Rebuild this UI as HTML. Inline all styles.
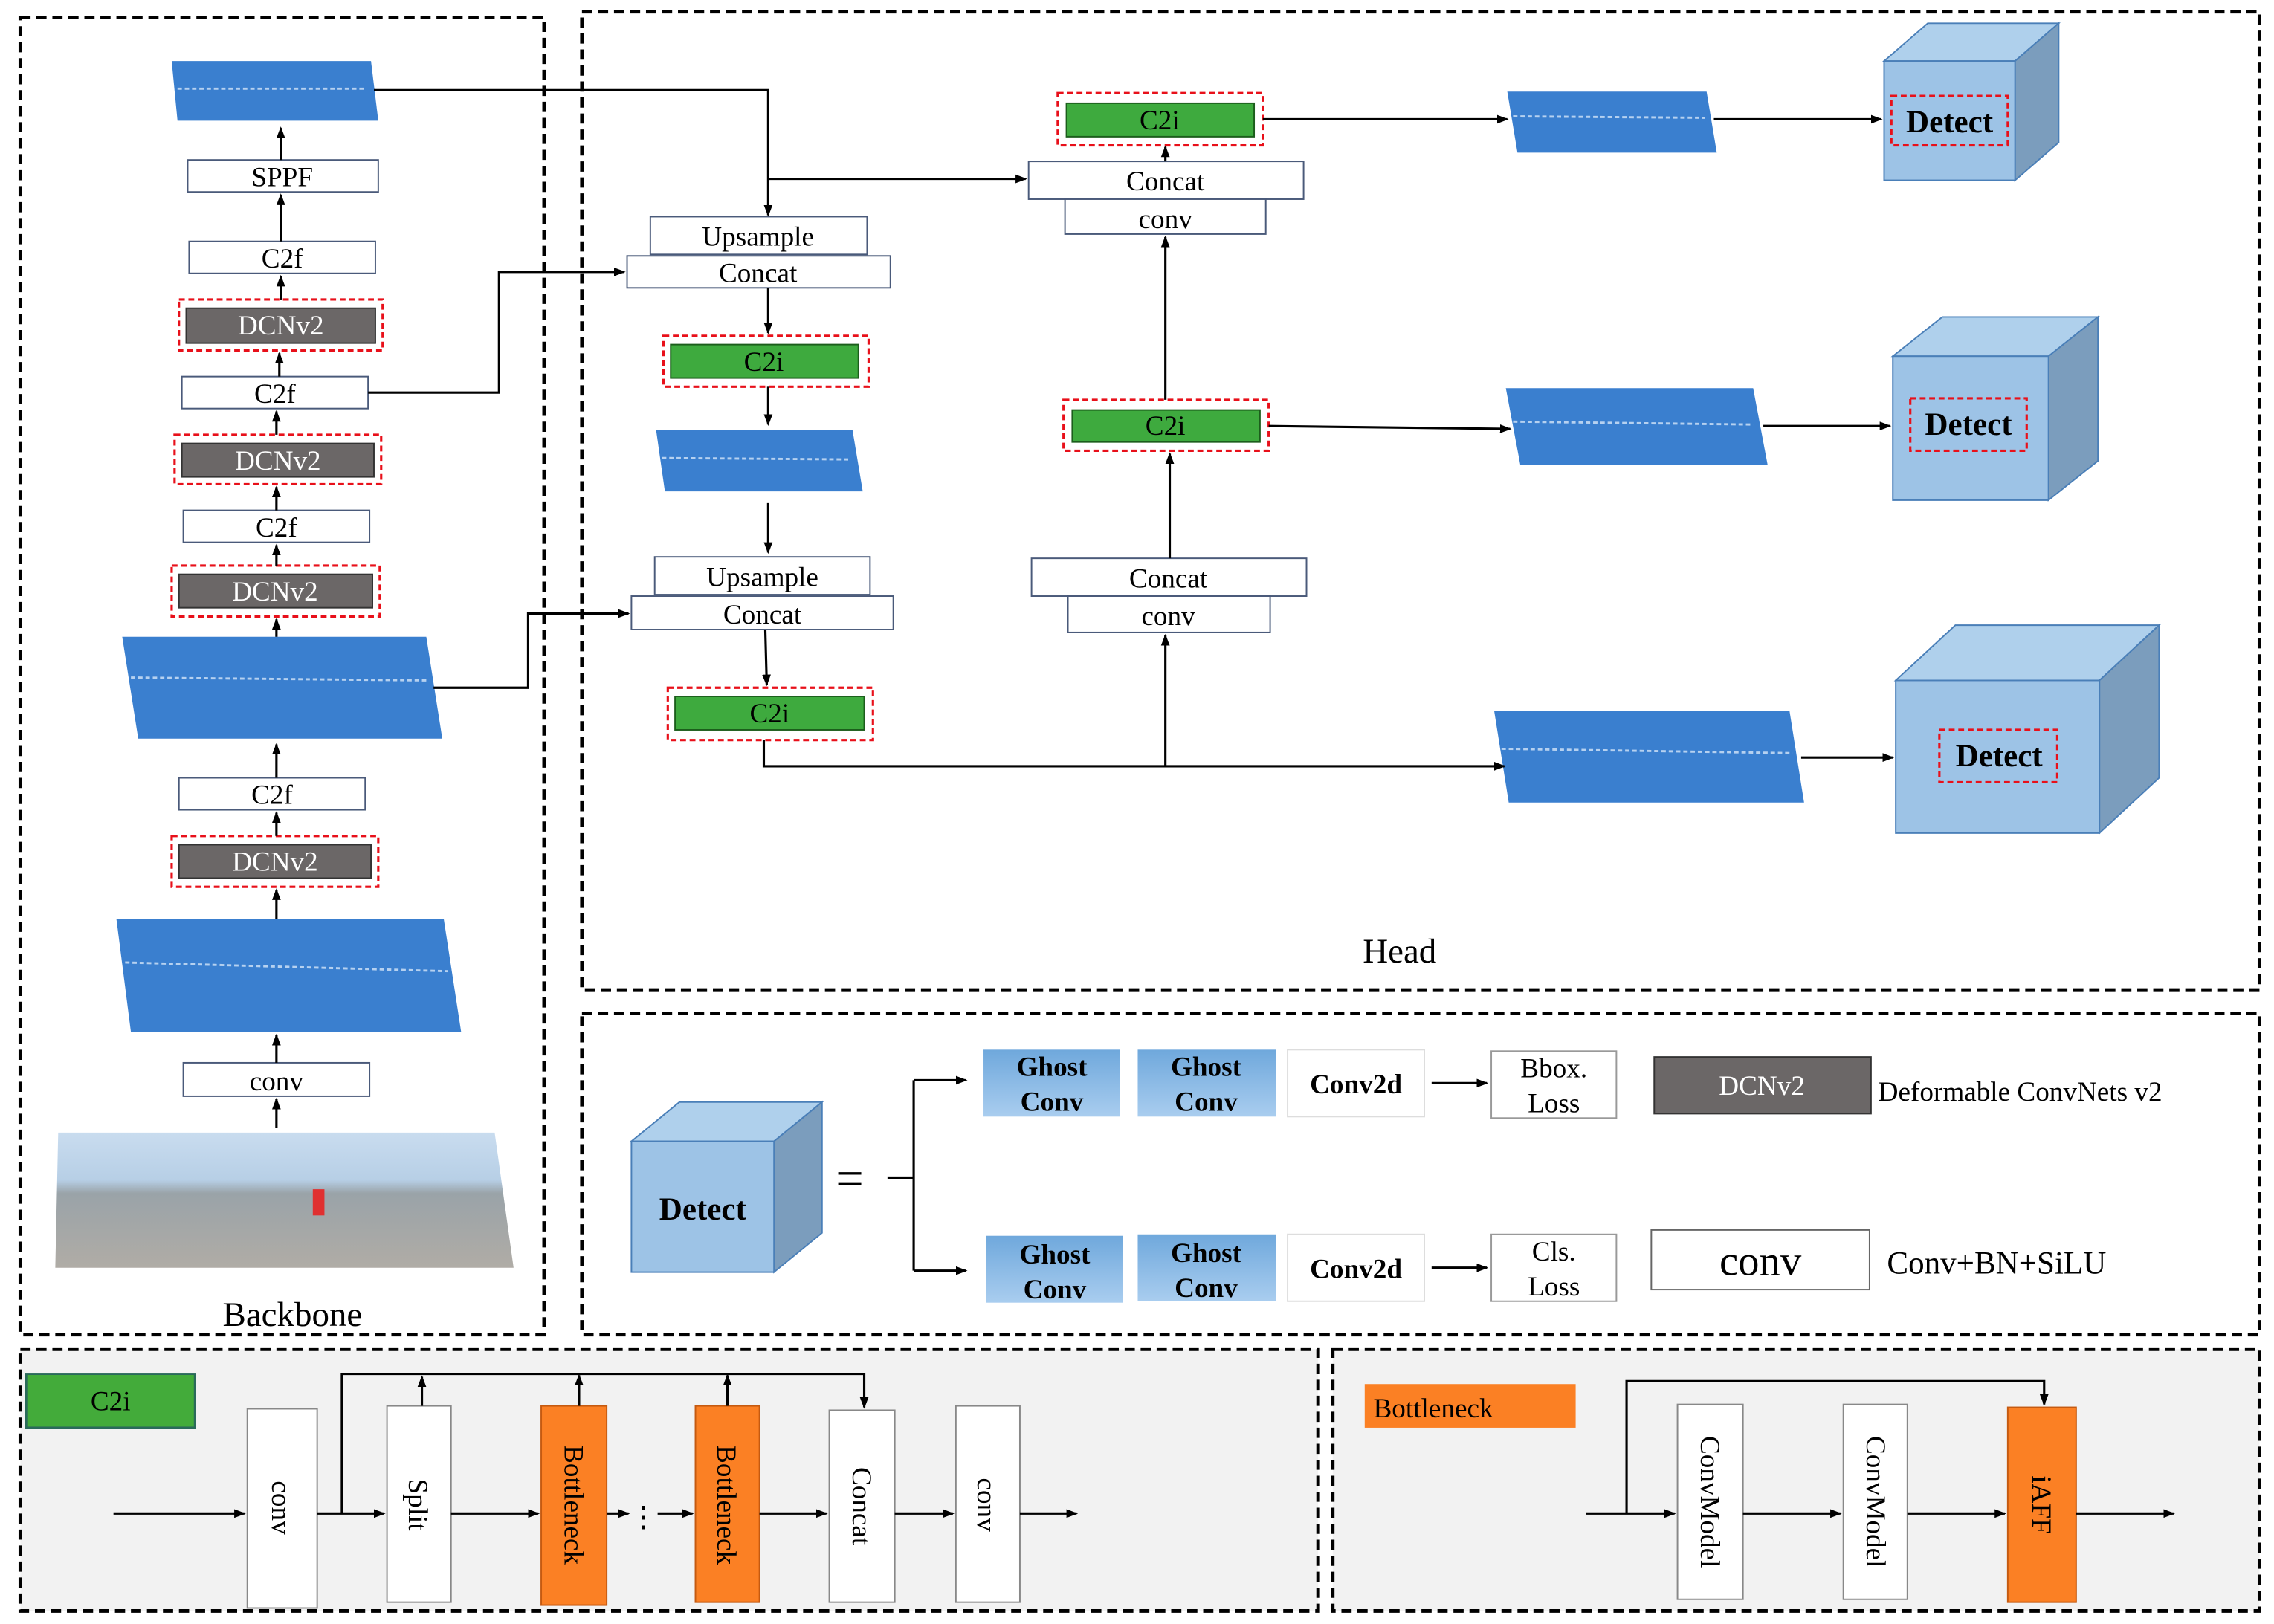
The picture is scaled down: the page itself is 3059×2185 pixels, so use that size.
<!DOCTYPE html>
<html><head><meta charset="utf-8"><style>html,body{margin:0;padding:0;background:#fff}svg{display:block}svg text{font-family:"Liberation Serif",serif}</style></head>
<body>
<svg width="3059" height="2185" viewBox="0 0 1563 1117" preserveAspectRatio="none" xmlns="http://www.w3.org/2000/svg" style="font-family:'Liberation Serif',serif">
<defs>
<marker id="a" markerWidth="8" markerHeight="8" refX="7" refY="4" orient="auto" markerUnits="userSpaceOnUse"><path d="M0,1 L8,4 L0,7z" fill="#000"/></marker>
<linearGradient id="sea" x1="0" y1="0" x2="0" y2="1"><stop offset="0" stop-color="#c9dcef"/><stop offset="0.35" stop-color="#b7cfe6"/><stop offset="0.45" stop-color="#9aa3a8"/><stop offset="1" stop-color="#b0aca6"/></linearGradient>
<linearGradient id="gb" x1="0" y1="0" x2="0" y2="1"><stop offset="0" stop-color="#6fa8dc"/><stop offset="1" stop-color="#a9cdef"/></linearGradient>
</defs>
<g fill="none" stroke="#000" stroke-width="2.5" stroke-dasharray="7,4">
<rect x="14" y="12" width="360" height="906"/>
<rect x="400" y="8" width="1153" height="673"/>
<rect x="400" y="697" width="1153" height="221"/>
<rect x="14" y="928" width="892" height="180" fill="#f2f2f2"/>
<rect x="916" y="928" width="637" height="180" fill="#f2f2f2"/>
</g>
<g fill="#3a7fcf">
<polygon points="118,42 255,42 260,83 122,83"/>
<polygon points="84,438 293,438 304,508 95,508"/>
<polygon points="80,632 305,632 317,710 90,710"/>
<polygon points="451,296 586,296 593,338 457,338"/>
<polygon points="1036,63 1173,63 1180,105 1043,105"/>
<polygon points="1035,267 1205,267 1215,320 1045,320"/>
<polygon points="1027,489 1230,489 1240,552 1037,552"/>
</g>
<g stroke="#d6e6f7" stroke-width="1.5" stroke-dasharray="3,2" fill="none" opacity="0.8">
<line x1="122" y1="61" x2="252" y2="61"/><line x1="90" y1="466" x2="295" y2="468"/><line x1="86" y1="662" x2="308" y2="668"/>
<line x1="455" y1="315" x2="585" y2="316"/><line x1="1040" y1="80" x2="1172" y2="81"/><line x1="1040" y1="290" x2="1205" y2="292"/><line x1="1032" y1="515" x2="1232" y2="518"/>
</g>
<polygon points="40,779 340,779 353,872 38,872" fill="url(#sea)"/>
<rect x="215" y="818" width="8" height="18" fill="#e03030"/>
<g fill="#fff" stroke="#4a5a7a" stroke-width="1">
<rect x="129" y="110" width="131" height="22"/><rect x="130" y="166" width="128" height="22"/>
<rect x="125" y="259" width="128" height="22"/><rect x="126" y="351" width="128" height="22"/>
<rect x="123" y="535" width="128" height="22"/><rect x="126" y="731" width="128" height="23"/>
<rect x="447" y="149" width="149" height="26"/><rect x="431" y="176" width="181" height="22"/>
<rect x="450" y="383" width="148" height="26"/><rect x="434" y="410" width="180" height="23"/>
<rect x="709" y="384" width="189" height="26"/><rect x="734" y="410" width="139" height="25"/>
<rect x="707" y="111" width="189" height="26"/><rect x="732" y="137" width="138" height="24"/>
</g>
<g font-size="19" text-anchor="middle" fill="#000">
<text x="194" y="128">SPPF</text><text x="194" y="184">C2f</text><text x="189" y="277">C2f</text><text x="190" y="369">C2f</text><text x="187" y="553">C2f</text><text x="190" y="750">conv</text>
<text x="521" y="169">Upsample</text><text x="521" y="194">Concat</text><text x="524" y="403">Upsample</text><text x="524" y="429">Concat</text>
<text x="803" y="404">Concat</text><text x="803" y="430">conv</text><text x="801" y="131">Concat</text><text x="801" y="157">conv</text>
</g>
<g fill="#6b6767" stroke="#333" stroke-width="1"><rect x="128" y="212" width="130" height="24"/><rect x="125" y="305" width="132" height="23"/><rect x="123" y="395" width="133" height="23"/><rect x="123" y="581" width="132" height="23"/><rect x="1137" y="727" width="149" height="39"/></g>
<g font-size="19" text-anchor="middle" fill="#fff"><text x="193" y="230">DCNv2</text><text x="191" y="323">DCNv2</text><text x="189" y="413">DCNv2</text><text x="189" y="599">DCNv2</text><text x="1211" y="753">DCNv2</text></g>
<g fill="#3eaa3e" stroke="#1c5e1c" stroke-width="1"><rect x="461" y="237" width="129" height="23"/><rect x="464" y="479" width="130" height="23"/><rect x="737" y="282" width="129" height="22"/><rect x="733" y="71" width="129" height="23"/></g>
<g font-size="19" text-anchor="middle"><text x="525" y="255">C2i</text><text x="529" y="497">C2i</text><text x="801" y="299">C2i</text><text x="797" y="89">C2i</text></g>
<g fill="none" stroke="#e8101a" stroke-width="1.6" stroke-dasharray="4,2.5">
<rect x="123" y="206" width="140" height="35"/><rect x="120" y="299" width="142" height="34"/><rect x="118" y="389" width="143" height="35"/><rect x="118" y="575" width="142" height="35"/>
<rect x="456" y="231" width="141" height="35"/><rect x="459" y="473" width="141" height="36"/><rect x="731" y="275" width="141" height="35"/><rect x="727" y="64" width="141" height="36"/>
</g>
<g stroke="#000" stroke-width="1.6" fill="none" marker-end="url(#a)">
<line x1="190" y1="776" x2="190" y2="756"/><line x1="190" y1="731" x2="190" y2="712"/><line x1="190" y1="632" x2="190" y2="612"/>
<line x1="190" y1="575" x2="190" y2="559"/><line x1="190" y1="535" x2="190" y2="512"/><line x1="190" y1="438" x2="190" y2="426"/>
<line x1="190" y1="389" x2="190" y2="375"/><line x1="190" y1="351" x2="190" y2="335"/><line x1="190" y1="299" x2="190" y2="283"/>
<line x1="192" y1="259" x2="192" y2="243"/><line x1="193" y1="206" x2="193" y2="190"/><line x1="193" y1="166" x2="193" y2="134"/><line x1="193" y1="110" x2="193" y2="88"/>
<polyline points="257,62 528,62 528,148"/><polyline points="528,123 705,123"/>
<polyline points="253,270 343,270 343,187 429,187"/><polyline points="298,473 363,473 363,422 432,422"/>
<line x1="528" y1="198" x2="528" y2="229"/><line x1="528" y1="266" x2="528" y2="292"/><line x1="528" y1="346" x2="528" y2="380"/><line x1="526" y1="433" x2="527" y2="471"/>
<polyline points="525,509 525,527 1034,527"/><polyline points="801,527 801,437"/>
<line x1="804" y1="384" x2="804" y2="312"/><line x1="801" y1="275" x2="801" y2="163"/><line x1="801" y1="111" x2="801" y2="101"/>
<line x1="868" y1="82" x2="1036" y2="82"/><line x1="872" y1="293" x2="1038" y2="295"/>
<line x1="1178" y1="82" x2="1293" y2="82"/><line x1="1212" y1="293" x2="1299" y2="293"/><line x1="1238" y1="521" x2="1301" y2="521"/>
</g>
<g stroke="#4a7fb8" stroke-width="1">
<polygon points="1295,42 1325,16 1415,16 1385,42" fill="#afd0ec"/><polygon points="1385,42 1415,16 1415,98 1385,124" fill="#7b9dbd"/><rect x="1295" y="42" width="90" height="82" fill="#9dc3e6"/>
<polygon points="1301,245 1335,218 1442,218 1408,245" fill="#afd0ec"/><polygon points="1408,245 1442,218 1442,317 1408,344" fill="#7b9dbd"/><rect x="1301" y="245" width="107" height="99" fill="#9dc3e6"/>
<polygon points="1303,468 1344,430 1484,430 1443,468" fill="#afd0ec"/><polygon points="1443,468 1484,430 1484,535 1443,573" fill="#7b9dbd"/><rect x="1303" y="468" width="140" height="105" fill="#9dc3e6"/>
<polygon points="434,785 467,758 565,758 532,785" fill="#afd0ec"/><polygon points="532,785 565,758 565,848 532,875" fill="#7b9dbd"/><rect x="434" y="785" width="98" height="90" fill="#9dc3e6"/>
</g>
<g fill="none" stroke="#e8101a" stroke-width="1.6" stroke-dasharray="4,2.5"><rect x="1300" y="66" width="80" height="34"/><rect x="1313" y="274" width="80" height="36"/><rect x="1333" y="502" width="81" height="36"/></g>
<g font-size="22" font-weight="bold" text-anchor="middle"><text x="1340" y="91">Detect</text><text x="1353" y="299">Detect</text><text x="1374" y="527">Detect</text><text x="483" y="839">Detect</text></g>
<text x="962" y="662" font-size="24" text-anchor="middle">Head</text>
<text x="201" y="912" font-size="24" text-anchor="middle">Backbone</text>
<text x="584" y="822" font-size="34" text-anchor="middle">=</text>
<g stroke="#000" stroke-width="1.6" fill="none"><line x1="610" y1="810" x2="628" y2="810"/><line x1="628" y1="743" x2="628" y2="874"/>
<line x1="628" y1="743" x2="664" y2="743" marker-end="url(#a)"/><line x1="628" y1="874" x2="664" y2="874" marker-end="url(#a)"/>
<line x1="984" y1="745" x2="1022" y2="745" marker-end="url(#a)"/><line x1="984" y1="872" x2="1022" y2="872" marker-end="url(#a)"/></g>
<g fill="url(#gb)"><rect x="676" y="722" width="94" height="46"/><rect x="782" y="722" width="95" height="46"/><rect x="678" y="850" width="94" height="46"/><rect x="782" y="849" width="95" height="46"/></g>
<g fill="#fff" stroke="#ddd" stroke-width="1"><rect x="885" y="722" width="94" height="46"/><rect x="885" y="849" width="94" height="46"/></g>
<g fill="#fff" stroke="#999" stroke-width="1"><rect x="1025" y="723" width="86" height="46"/><rect x="1025" y="849" width="86" height="46"/></g>
<rect x="1135" y="846" width="150" height="41" fill="#fff" stroke="#666" stroke-width="1"/>
<g font-size="19" font-weight="bold" text-anchor="middle">
<text x="723" y="740">Ghost</text><text x="723" y="764">Conv</text><text x="829" y="740">Ghost</text><text x="829" y="764">Conv</text>
<text x="725" y="869">Ghost</text><text x="725" y="893">Conv</text><text x="829" y="868">Ghost</text><text x="829" y="892">Conv</text>
<text x="932" y="752">Conv2d</text><text x="932" y="879">Conv2d</text></g>
<g font-size="19" text-anchor="middle"><text x="1068" y="741">Bbox.</text><text x="1068" y="765">Loss</text><text x="1068" y="867">Cls.</text><text x="1068" y="891">Loss</text></g>
<text x="1210" y="877" font-size="29" text-anchor="middle">conv</text>
<text x="1291" y="757" font-size="19">Deformable ConvNets v2</text>
<text x="1297" y="876" font-size="22">Conv+BN+SiLU</text>
<rect x="18" y="945" width="116" height="37" fill="#43ab3a" stroke="#2a6a5a" stroke-width="1.5"/>
<text x="76" y="970" font-size="19" text-anchor="middle">C2i</text>
<g fill="#fff" stroke="#888" stroke-width="1"><rect x="170" y="969" width="48" height="137"/><rect x="266" y="967" width="44" height="135"/><rect x="570" y="970" width="45" height="132"/><rect x="657" y="967" width="44" height="135"/>
<rect x="1153" y="966" width="45" height="134"/><rect x="1267" y="966" width="44" height="134"/></g>
<g fill="#fb8024" stroke="#c55a10" stroke-width="1"><rect x="372" y="967" width="45" height="137"/><rect x="478" y="967" width="44" height="135"/><rect x="1380" y="968" width="47" height="134"/><rect x="938" y="952" width="145" height="30" stroke="none"/></g>
<text x="944" y="975" font-size="19">Bottleneck</text>
<g font-size="19" text-anchor="middle">
<text transform="translate(187,1037) rotate(90)">conv</text><text transform="translate(281,1035) rotate(90)">Split</text>
<text transform="translate(388,1035) rotate(90)">Bottleneck</text><text transform="translate(493,1035) rotate(90)">Bottleneck</text>
<text transform="translate(586,1036) rotate(90)">Concat</text><text transform="translate(672,1035) rotate(90)">conv</text>
<text transform="translate(1169,1033) rotate(90)">ConvModel</text><text transform="translate(1283,1033) rotate(90)">ConvModel</text>
<text transform="translate(1397,1035) rotate(90)">iAFF</text></g>
<text x="442" y="1050" font-size="20" text-anchor="middle">⋮</text>
<g stroke="#000" stroke-width="1.6" fill="none">
<line x1="78" y1="1041" x2="168" y2="1041" marker-end="url(#a)"/><line x1="218" y1="1041" x2="264" y2="1041" marker-end="url(#a)"/>
<line x1="310" y1="1041" x2="370" y2="1041" marker-end="url(#a)"/><line x1="417" y1="1041" x2="432" y2="1041" marker-end="url(#a)"/>
<line x1="452" y1="1041" x2="476" y2="1041" marker-end="url(#a)"/><line x1="522" y1="1041" x2="568" y2="1041" marker-end="url(#a)"/>
<line x1="615" y1="1041" x2="655" y2="1041" marker-end="url(#a)"/><line x1="701" y1="1041" x2="740" y2="1041" marker-end="url(#a)"/>
<polyline points="235,1041 235,945 594,945 594,968" marker-end="url(#a)"/>
<line x1="290" y1="967" x2="290" y2="947" marker-end="url(#a)"/><line x1="398" y1="967" x2="398" y2="946" marker-end="url(#a)"/><line x1="500" y1="967" x2="500" y2="946" marker-end="url(#a)"/>
<line x1="1090" y1="1041" x2="1151" y2="1041" marker-end="url(#a)"/><line x1="1198" y1="1041" x2="1265" y2="1041" marker-end="url(#a)"/>
<line x1="1311" y1="1041" x2="1378" y2="1041" marker-end="url(#a)"/><line x1="1427" y1="1041" x2="1494" y2="1041" marker-end="url(#a)"/>
<polyline points="1118,1041 1118,950 1405,950 1405,966" marker-end="url(#a)"/>
</g>
</svg>
</body></html>
